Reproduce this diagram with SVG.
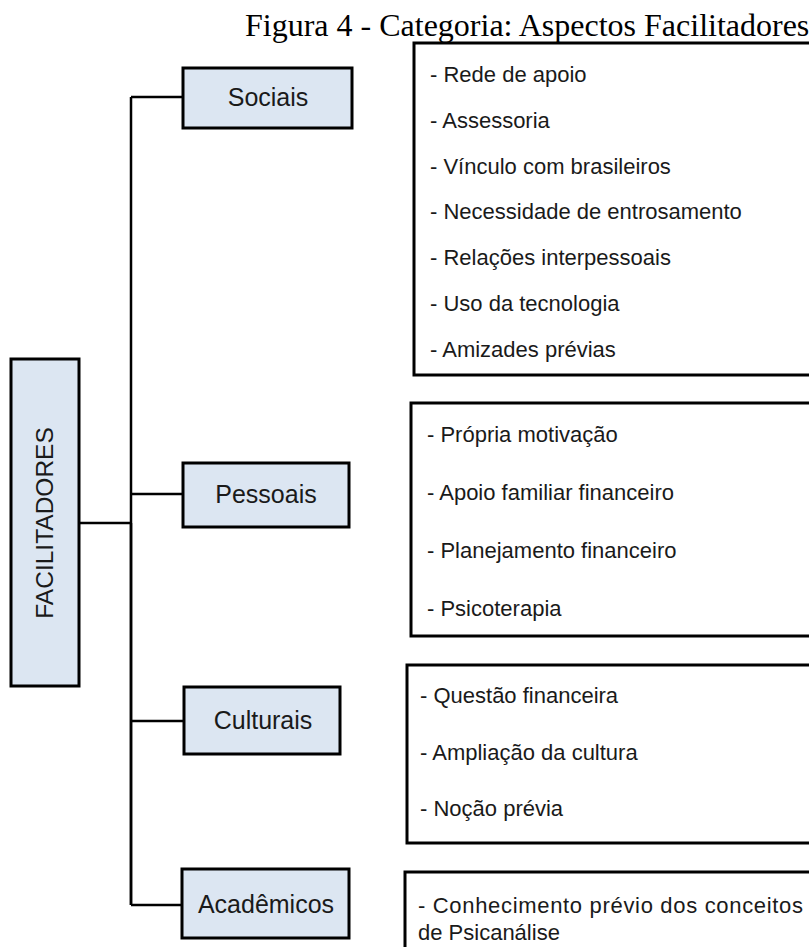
<svg xmlns="http://www.w3.org/2000/svg" width="809" height="947" viewBox="0 0 809 947">
<style>
.cat{fill:#dce6f2;stroke:#000;stroke-width:3}
.det{fill:#fff;stroke:#000;stroke-width:3}
.lbl{font-family:"Liberation Sans",Arial,sans-serif;font-size:25px;fill:#1a1a1a;text-anchor:middle}
.item{font-family:"Liberation Sans",Arial,sans-serif;font-size:22px;fill:#1a1a1a}
.con{fill:none;stroke:#000;stroke-width:2.5}
</style>
<rect width="809" height="947" fill="#fff"/>
<text x="245" y="36" font-family="'Liberation Serif','Times New Roman',serif" font-size="32" fill="#000">Figura 4 - Categoria: Aspectos Facilitadores</text>
<g id="connectors">
<path class="con" d="M131 97 V905"/>
<path class="con" d="M131 523 V905" stroke-width="3.5"/>
<path class="con" d="M131 97 H184"/>
<path class="con" d="M131 494 H184"/>
<path class="con" d="M131 721 H184"/>
<path class="con" d="M131 905 H183"/>
<path class="con" d="M79 523 H131"/>
</g>
<g id="facilitadores">
<rect class="cat" x="11" y="359" width="68" height="327"/>
<text class="lbl" transform="translate(53 523) rotate(-90)" style="font-size:24.5px">FACILITADORES</text>
</g>
<g id="sociais">
<rect class="cat" x="183" y="68" width="169" height="60"/>
<text class="lbl" x="268" y="106">Sociais</text>
</g>
<g id="pessoais">
<rect class="cat" x="183" y="463" width="166" height="64"/>
<text class="lbl" x="266" y="503">Pessoais</text>
</g>
<g id="culturais">
<rect class="cat" x="184" y="687" width="156" height="67"/>
<text class="lbl" x="263" y="729">Culturais</text>
</g>
<g id="academicos">
<rect class="cat" x="182" y="869" width="167" height="69"/>
<text class="lbl" x="266" y="913">Acadêmicos</text>
</g>
<g id="sociais-itens">
<rect class="det" x="414" y="43" width="420" height="332"/>
<text class="item" x="430" y="82">- Rede de apoio</text>
<text class="item" x="430" y="128">- Assessoria</text>
<text class="item" x="430" y="174">- Vínculo com brasileiros</text>
<text class="item" x="430" y="219">- Necessidade de entrosamento</text>
<text class="item" x="430" y="265">- Relações interpessoais</text>
<text class="item" x="430" y="311">- Uso da tecnologia</text>
<text class="item" x="430" y="357">- Amizades prévias</text>
</g>
<g id="pessoais-itens">
<rect class="det" x="411" y="403" width="420" height="233"/>
<text class="item" x="427" y="442">- Própria motivação</text>
<text class="item" x="427" y="500">- Apoio familiar financeiro</text>
<text class="item" x="427" y="558">- Planejamento financeiro</text>
<text class="item" x="427" y="616">- Psicoterapia</text>
</g>
<g id="culturais-itens">
<rect class="det" x="407" y="665" width="420" height="178"/>
<text class="item" x="420" y="703">- Questão financeira</text>
<text class="item" x="420" y="760">- Ampliação da cultura</text>
<text class="item" x="420" y="816">- Noção prévia</text>
</g>
<g id="academicos-itens">
<rect class="det" x="405" y="872" width="420" height="100"/>
<text class="item" x="418" y="913" textLength="385" lengthAdjust="spacing">- Conhecimento prévio dos conceitos</text>
<text class="item" x="418" y="940">de Psicanálise</text>
</g>
</svg>
